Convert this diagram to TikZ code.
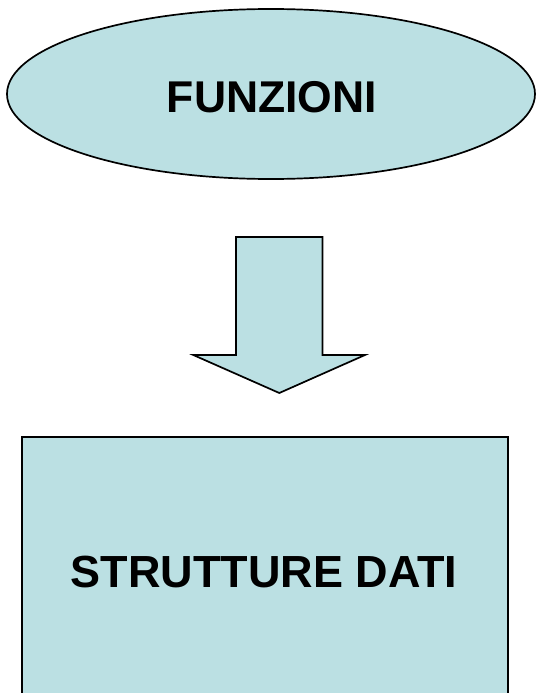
\documentclass[tikz,border=0pt]{standalone}
\usepackage{fontspec}
\setmainfont{Liberation Sans}
\usetikzlibrary{shapes.geometric}
\definecolor{boxfill}{RGB}{187,224,227}
\tikzset{
  shapestyle/.style={draw=black, line width=1.7pt, fill=boxfill},
  labeltext/.style={font=\bfseries, inner sep=0pt, anchor=base}
}
\begin{document}
\begin{tikzpicture}[x=1pt,y=1pt]
\useasboundingbox (0,0) rectangle (536,-693);
\clip (0,0) rectangle (536,-693);
% ellipse
\node[shapestyle, ellipse, minimum width=528pt, minimum height=170pt, inner sep=0pt] (funz) at (271,-94) {};
\node[labeltext, font=\fontsize{44.5}{50}\selectfont\bfseries] (funztext) at (272,-112) {FUNZIONI};
% block arrow
\draw[shapestyle, line join=miter]
  (236,-237) -- (322.5,-237) -- (322.5,-355) -- (365,-355) -- (279.3,-393)
  -- (193.3,-355) -- (236,-355) -- cycle;
% rectangle
\draw[shapestyle] (22,-437) rectangle (508,-720);
\node[labeltext, font=\fontsize{45}{50}\selectfont\bfseries] (dati) at (264,-587) {STRUTTURE DATI};
\end{tikzpicture}
\end{document}
